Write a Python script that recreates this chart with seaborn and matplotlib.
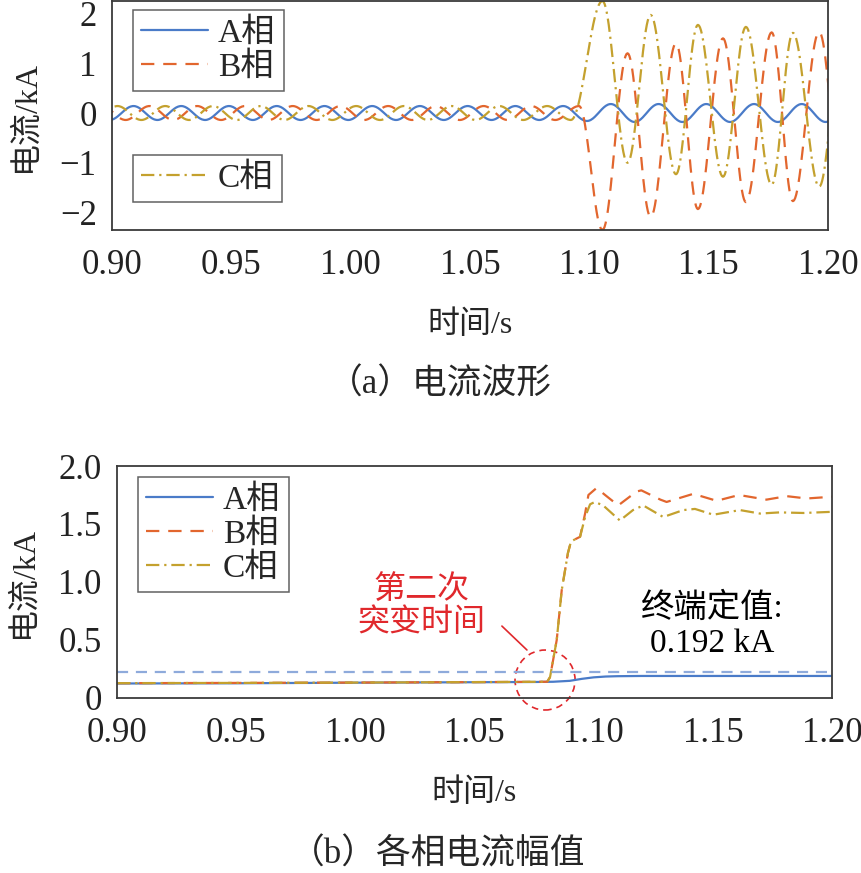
import numpy as np
import pandas as pd
import matplotlib
matplotlib.use("Agg")
import matplotlib.pyplot as plt
import seaborn as sns
from matplotlib.patches import Ellipse

# ---------------- (a) current waveform: half-cycle extremes ----------------
half_period = 0.01

# phase A: extremes every half period starting with a trough
a_start = 0.899
a_vals = [-0.14, 0.14] * 10 + [-0.16, 0.18, -0.18, 0.18, -0.18, 0.18,
                                -0.18, 0.18, -0.18, 0.18, -0.18, 0.18]

# phases B / C before the fault (steady state)
b_start = 0.8957
b_pre_vals = [0.14, -0.14] * 10 + [0.14]
c_start = 0.8923
c_pre_vals = [-0.14, 0.14] * 10 + [-0.14]

# phases B / C after the fault
post_times = [1.1055, 1.116, 1.1257, 1.1363, 1.1455, 1.156, 1.1656, 1.1764, 1.1853, 1.1963, 1.2063]
b_post_vals = [-2.35, 1.20, -2.09, 1.40, -1.93, 1.50, -1.79, 1.62, -1.77, 1.63, -1.70]
c_post_vals = [2.25, -1.00, 1.97, -1.23, 1.77, -1.28, 1.73, -1.44, 1.61, -1.48, 1.60]

# ---------------- (b) amplitude of each phase ----------------
amp_a_t = [0.90, 0.95, 1.00, 1.05, 1.075, 1.083, 1.09, 1.095, 1.10, 1.105, 1.11, 1.12, 1.15, 1.20]
amp_a = [0.125, 0.127, 0.132, 0.136, 0.138, 0.14, 0.148, 0.165, 0.178, 0.185, 0.188, 0.19, 0.19, 0.19]

amp_b_t = [0.90, 0.95, 1.00, 1.05, 1.0805, 1.0817, 1.0845, 1.0866, 1.0892, 1.0905, 1.0943, 1.0964,
           1.0978, 1.1012, 1.1054, 1.1103, 1.118, 1.120, 1.128, 1.1306, 1.1418, 1.1516, 1.161,
           1.1725, 1.181, 1.1894, 1.20]
amp_b = [0.128, 0.13, 0.133, 0.137, 0.14, 0.18, 0.50, 0.93, 1.25, 1.35, 1.39, 1.59,
         1.75, 1.81, 1.74, 1.66, 1.78, 1.79, 1.71, 1.69, 1.76, 1.70, 1.75,
         1.71, 1.74, 1.72, 1.735]

amp_c_t = [0.90, 0.95, 1.00, 1.05, 1.0805, 1.0817, 1.0845, 1.0866, 1.0892, 1.0905, 1.0943, 1.0964,
           1.0985, 1.1005, 1.104, 1.111, 1.1165, 1.1208, 1.1292, 1.1376, 1.1425, 1.1502, 1.1614,
           1.1698, 1.178, 1.188, 1.20]
amp_c = [0.128, 0.13, 0.133, 0.137, 0.14, 0.18, 0.50, 0.93, 1.25, 1.35, 1.39, 1.56,
         1.67, 1.69, 1.66, 1.53, 1.62, 1.66, 1.56, 1.62, 1.63, 1.58, 1.62,
         1.59, 1.60, 1.595, 1.605]

threshold = 0.22
x_ticks = [0.90, 0.95, 1.00, 1.05, 1.10, 1.15, 1.20]
x_ticklabels = ["0.90", "0.95", "1.00", "1.05", "1.10", "1.15", "1.20"]

col_a = "#4a7bc8"
col_b = "#e2662e"
col_c = "#c4a12e"
col_red = "#e0282c"
dash_b = (0, (6, 4))
dash_c = (0, (6, 2.2, 1, 2.2))


def half_waves(times, values, n=24):
    # join successive extremes with half cosine arcs
    ts, vs = [], []
    for i in range(len(times) - 1):
        s = np.linspace(0, 1, n, endpoint=False)
        ts.append(times[i] + (times[i + 1] - times[i]) * s)
        vs.append(values[i] + (values[i + 1] - values[i]) * (1 - np.cos(np.pi * s)) / 2)
    ts.append([times[-1]])
    vs.append([values[-1]])
    return np.concatenate(ts), np.concatenate(vs)


a_t = a_start + half_period * np.arange(len(a_vals))
b_t = list(b_start + half_period * np.arange(len(b_pre_vals))) + post_times
c_t = list(c_start + half_period * np.arange(len(c_pre_vals))) + post_times

wave_a = half_waves(list(a_t), a_vals)
wave_b = half_waves(b_t, b_pre_vals + b_post_vals)
wave_c = half_waves(c_t, c_pre_vals + c_post_vals)

sns.set_style("white")
plt.rcParams["font.family"] = ["Liberation Serif", "Noto Sans CJK SC"]
plt.rcParams["axes.unicode_minus"] = True

fig = plt.figure(figsize=(8.61, 8.73), dpi=100)
ax1 = fig.add_axes([112 / 861, 1 - 230 / 873, 716 / 861, 229 / 873])
ax2 = fig.add_axes([117 / 861, 1 - 698 / 873, 715 / 861, 232 / 873])

# ---- top panel ----
sns.lineplot(x=wave_a[0], y=wave_a[1], ax=ax1, color=col_a, lw=1.6, sort=False,
             estimator=None, label="A相")
sns.lineplot(x=wave_b[0], y=wave_b[1], ax=ax1, color=col_b, lw=1.6, sort=False,
             estimator=None, linestyle=dash_b, label="B相")
sns.lineplot(x=wave_c[0], y=wave_c[1], ax=ax1, color=col_c, lw=1.6, sort=False,
             estimator=None, linestyle=dash_c, label="C相")
ax1.set_xlim(0.9, 1.2)
ax1.set_ylim(-2.35, 2.25)
ax1.set_yticks([-2, -1, 0, 1, 2])

# ---- bottom panel ----
sns.lineplot(x=amp_a_t, y=amp_a, ax=ax2, color=col_a, lw=1.6, sort=False,
             estimator=None, label="A相")
sns.lineplot(x=amp_b_t, y=amp_b, ax=ax2, color=col_b, lw=1.6, sort=False,
             estimator=None, linestyle=dash_b, label="B相")
sns.lineplot(x=amp_c_t, y=amp_c, ax=ax2, color=col_c, lw=1.6, sort=False,
             estimator=None, linestyle=dash_c, label="C相")
sns.lineplot(x=[0.9, 1.2], y=[threshold, threshold], ax=ax2, color="#8eaadb", lw=1.6,
             linestyle=(0, (5, 3.5)), legend=False)
ax2.set_xlim(0.9, 1.2)
ax2.set_ylim(0, 2.0)
ax2.set_yticks([0, 0.5, 1.0, 1.5, 2.0])
ax2.set_yticklabels(["0", "0.5", "1.0", "1.5", "2.0"])

for ax in (ax1, ax2):
    ax.set_xticks(x_ticks)
    ax.set_xticklabels(x_ticklabels)
    ax.tick_params(direction="in", length=6, width=1.1, labelsize=25,
                   colors="#222222")
    ax.tick_params(axis="x", pad=14)
    ax.tick_params(axis="y", pad=11)
    for sp in ax.spines.values():
        sp.set_visible(True)
        sp.set_color("#3a3a3a")
        sp.set_linewidth(1.3)
    ax.set_xlabel("时间/s", fontsize=23, labelpad=20)
    ax.set_ylabel("电流/kA", fontsize=23, labelpad=14)

# legends
leg_kw = dict(fontsize=24, frameon=True, fancybox=False, edgecolor="#3a3a3a",
              handlelength=2.0, handletextpad=0.3, labelspacing=0.1, borderpad=0.25,
              borderaxespad=0, loc="upper left")
h1 = ax1.get_lines()
ax1.get_legend().remove()
leg1 = ax1.legend(h1[:2], ["A相", "B相"], bbox_to_anchor=(0.029, 0.961), **leg_kw)
ax1.add_artist(leg1)
ax1.legend(h1[2:3], ["C相"], bbox_to_anchor=(0.029, 0.3275), **leg_kw)

h2 = ax2.get_lines()
ax2.get_legend().remove()
ax2.legend(h2[:3], ["A相", "B相", "C相"], bbox_to_anchor=(0.029, 0.953), **leg_kw)
for leg in (leg1, ax1.get_legend(), ax2.get_legend()):
    leg.get_frame().set_linewidth(1.1)

# annotations in (b)
ax2.text(1.0276, 0.79, "第二次\n突变时间", color=col_red, fontsize=23,
         ha="center", va="center", linespacing=1.15)
ax2.plot([1.0615, 1.072], [0.62, 0.414], color=col_red, lw=1.2)
ax2.add_patch(Ellipse((1.0796, 0.155), width=0.0252, height=0.517, fill=False,
                      edgecolor=col_red, lw=1.2, linestyle=(0, (4, 3)), clip_on=False))
ax2.text(1.1497, 0.62, "终端定值:\n0.192 kA", color="black", fontsize=24,
         ha="center", va="center", linespacing=1.2)

# captions
fig.text(440 / 861, 1 - 385 / 873, "（a）电流波形", fontsize=25, ha="center", va="center")
fig.text(438 / 861, 1 - 855 / 873, "（b）各相电流幅值", fontsize=25, ha="center", va="center")

fig.savefig("out.png", dpi=100)
